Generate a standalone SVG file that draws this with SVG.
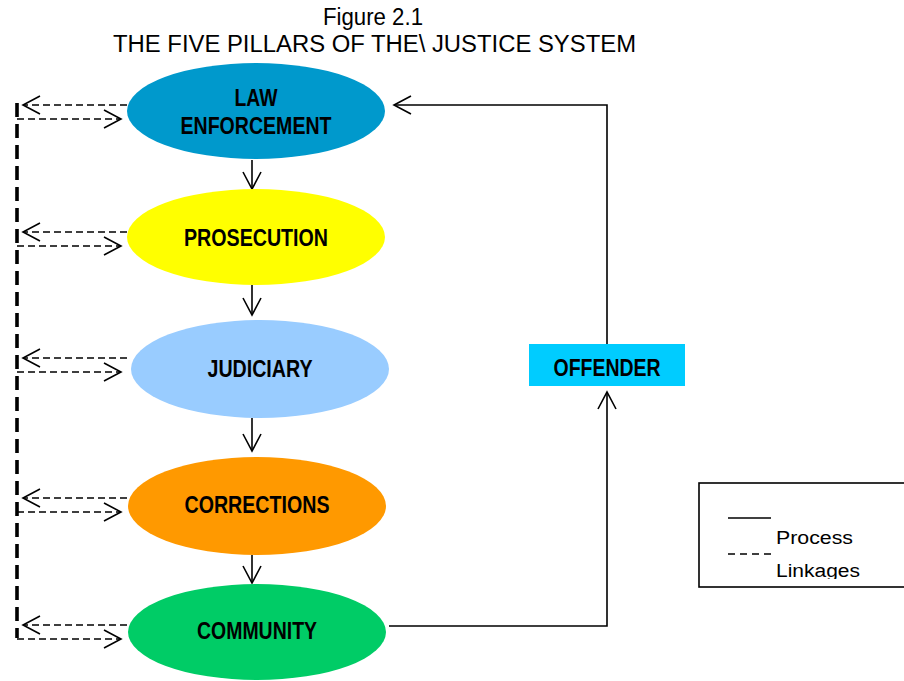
<svg xmlns="http://www.w3.org/2000/svg" width="904" height="681" viewBox="0 0 904 681">
  <style>
    .title { font-family: "Liberation Sans", Arial, sans-serif; font-size: 23.5px; fill: #000; }
    .label { font-family: "Liberation Sans", Arial, sans-serif; font-weight: bold; font-size: 23.5px; fill: #000; }
    .legend { font-family: "Liberation Sans", Arial, sans-serif; font-size: 18px; fill: #000; }
    .process { fill: none; stroke: #000; stroke-width: 1.6; }
    .link { fill: none; stroke: #000; stroke-width: 1.6; stroke-dasharray: 7 4; }
    .spine { fill: none; stroke: #000; stroke-width: 3.6; stroke-dasharray: 14 7; }
  </style>
  <defs>
    <marker id="chev" markerUnits="userSpaceOnUse" markerWidth="20" markerHeight="22" viewBox="-18 -11 20 22" refX="0" refY="0" orient="auto">
      <path d="M-17,-9 L0,0 L-17,9" fill="none" stroke="#000" stroke-width="1.6"/>
    </marker>
    <clipPath id="legendClip">
      <rect x="699" y="483" width="210" height="96"/>
    </clipPath>
  </defs>

  <rect width="904" height="681" fill="#fff"/>

  <g id="title">
    <text class="title" x="373" y="25" text-anchor="middle" textLength="100" lengthAdjust="spacingAndGlyphs">Figure 2.1</text>
    <text class="title" x="374.5" y="52" text-anchor="middle" textLength="523" lengthAdjust="spacingAndGlyphs">THE FIVE PILLARS OF THE\ JUSTICE SYSTEM</text>
  </g>

  <g id="connectors">
    <!-- process flow between pillars -->
    <line class="process" x1="252" y1="160" x2="252" y2="189" marker-end="url(#chev)"/>
    <line class="process" x1="252" y1="285" x2="252" y2="315" marker-end="url(#chev)"/>
    <line class="process" x1="252" y1="418" x2="252" y2="451" marker-end="url(#chev)"/>
    <line class="process" x1="252" y1="555" x2="252" y2="583" marker-end="url(#chev)"/>
    <!-- offender loop -->
    <polyline class="process" points="389,626 607,626 607,392" marker-end="url(#chev)"/>
    <polyline class="process" points="607,344 607,105 394,105" marker-end="url(#chev)"/>

    <!-- linkage spine -->
    <line class="spine" x1="17" y1="103" x2="17" y2="638"/>
    <!-- linkages per pillar -->
    <line class="link" x1="127" y1="105" x2="23" y2="105" marker-end="url(#chev)"/>
    <line class="link" x1="17" y1="119" x2="121" y2="119" marker-end="url(#chev)"/>
    <line class="link" x1="127" y1="232" x2="23" y2="232" marker-end="url(#chev)"/>
    <line class="link" x1="17" y1="246" x2="121" y2="246" marker-end="url(#chev)"/>
    <line class="link" x1="127" y1="358" x2="23" y2="358" marker-end="url(#chev)"/>
    <line class="link" x1="17" y1="372" x2="121" y2="372" marker-end="url(#chev)"/>
    <line class="link" x1="127" y1="498" x2="23" y2="498" marker-end="url(#chev)"/>
    <line class="link" x1="17" y1="512" x2="121" y2="512" marker-end="url(#chev)"/>
    <line class="link" x1="127" y1="625" x2="23" y2="625" marker-end="url(#chev)"/>
    <line class="link" x1="17" y1="639" x2="121" y2="639" marker-end="url(#chev)"/>
  </g>

  <g id="law-enforcement">
    <ellipse cx="256" cy="111" rx="129" ry="48" fill="#0099CC"/>
    <text class="label" x="256" y="106" text-anchor="middle" textLength="43" lengthAdjust="spacingAndGlyphs">LAW</text>
    <text class="label" x="256" y="134" text-anchor="middle" textLength="151" lengthAdjust="spacingAndGlyphs">ENFORCEMENT</text>
  </g>

  <g id="prosecution">
    <ellipse cx="256" cy="237" rx="129" ry="48" fill="#FFFF00"/>
    <text class="label" x="256" y="246" text-anchor="middle" textLength="144" lengthAdjust="spacingAndGlyphs">PROSECUTION</text>
  </g>

  <g id="judiciary">
    <ellipse cx="260" cy="369" rx="129" ry="49" fill="#99CCFF"/>
    <text class="label" x="260" y="377" text-anchor="middle" textLength="105" lengthAdjust="spacingAndGlyphs">JUDICIARY</text>
  </g>

  <g id="corrections">
    <ellipse cx="257" cy="506" rx="129" ry="49" fill="#FF9900"/>
    <text class="label" x="257" y="513" text-anchor="middle" textLength="145" lengthAdjust="spacingAndGlyphs">CORRECTIONS</text>
  </g>

  <g id="community">
    <ellipse cx="257" cy="632" rx="129" ry="48" fill="#00CC66"/>
    <text class="label" x="257" y="639" text-anchor="middle" textLength="120" lengthAdjust="spacingAndGlyphs">COMMUNITY</text>
  </g>

  <g id="offender">
    <rect x="529" y="344" width="156" height="42" fill="#00CCFF"/>
    <text class="label" x="607" y="376" text-anchor="middle" textLength="107" lengthAdjust="spacingAndGlyphs">OFFENDER</text>
  </g>

  <g id="legend">
    <rect x="699" y="483" width="215" height="104" fill="#fff" stroke="#000" stroke-width="1.6"/>
    <line x1="728" y1="518" x2="771" y2="518" stroke="#000" stroke-width="1.6"/>
    <line x1="728" y1="554" x2="771" y2="554" stroke="#000" stroke-width="1.6" stroke-dasharray="7 5"/>
    <g clip-path="url(#legendClip)">
      <text class="legend" x="776" y="544" textLength="77" lengthAdjust="spacingAndGlyphs">Process</text>
      <text class="legend" x="776" y="577" textLength="84" lengthAdjust="spacingAndGlyphs">Linkages</text>
    </g>
  </g>
</svg>
